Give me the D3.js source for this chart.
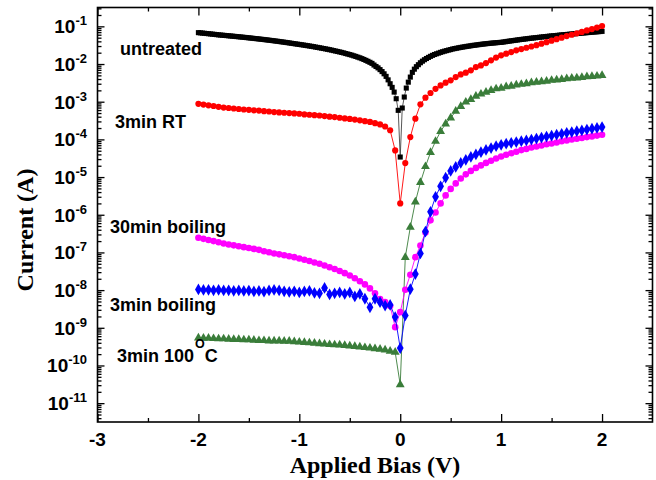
<!DOCTYPE html>
<html>
<head>
<meta charset="utf-8">
<script src="https://cdn.jsdelivr.net/npm/d3@7"></script>
<style>
body { margin: 0; background: #fff; }
text { font-family: "Liberation Sans", Arial, sans-serif; font-weight: bold; }
.title { font-family: "Liberation Serif", "Times New Roman", serif; font-size: 24px; }
</style>
</head>
<body>
<svg id="chart" width="656" height="480"></svg>
<script>
// bias sweeps (V)
const biasFine = d3.range(-100, 101).map(i => i / 50);   // 0.02 V step
const biasStep = d3.range(-40, 41).map(i => i / 20);     // 0.05 V step

// currents (A)
const untreated = [
  0.068, 0.0671, 0.0662, 0.0654, 0.0645, 0.0637, 0.0628, 0.062, 0.0612, 0.0603,
  0.0594, 0.0587, 0.0581, 0.0574, 0.0568, 0.0561, 0.0554, 0.0548, 0.0541, 0.0535,
  0.0528, 0.0521, 0.0515, 0.0508, 0.0502, 0.0495, 0.0488, 0.0482, 0.0475, 0.0469,
  0.0462, 0.0455, 0.0449, 0.0442, 0.0436, 0.0429, 0.0422, 0.0416, 0.0409, 0.0403,
  0.0396, 0.0389, 0.0383, 0.0376, 0.037, 0.0363, 0.0356, 0.035, 0.0343, 0.0337,
  0.0331, 0.0325, 0.0319, 0.0313, 0.0307, 0.0301, 0.0295, 0.0289, 0.0282, 0.0276,
  0.027, 0.0264, 0.0258, 0.0252, 0.0246, 0.024, 0.0234, 0.0227, 0.0221, 0.0215,
  0.0209, 0.0203, 0.0197, 0.019, 0.0184, 0.0178, 0.0172, 0.0165, 0.0159, 0.0152,
  0.0146, 0.0139, 0.0132, 0.0125, 0.0118, 0.0111, 0.0104, 0.0094, 0.0086, 0.0079,
  0.0071, 0.0063, 0.0055, 0.0047, 0.0038, 0.003, 0.0024, 0.0018, 0.0012, 0.00059,
  3.4e-5,
  0.00068, 0.00133, 0.0023, 0.0033, 0.0045, 0.006, 0.0073, 0.0085, 0.0096, 0.0108,
  0.0119, 0.013, 0.014, 0.015, 0.016, 0.017, 0.0179, 0.0187, 0.0195, 0.0204,
  0.0212, 0.022, 0.0227, 0.0235, 0.0242, 0.0251, 0.0257, 0.0263, 0.027, 0.0276,
  0.0282, 0.0288, 0.0294, 0.0299, 0.0305, 0.0312, 0.0316, 0.0322, 0.0327, 0.0333,
  0.0338, 0.0343, 0.0348, 0.0352, 0.0357, 0.0361, 0.0365, 0.0369, 0.0373, 0.0376,
  0.0383, 0.039, 0.0398, 0.0405, 0.0412, 0.042, 0.0427, 0.0434, 0.0442, 0.0449,
  0.0456, 0.0463, 0.0471, 0.0478, 0.0485, 0.0492, 0.0499, 0.0506, 0.0513, 0.052,
  0.0528, 0.0535, 0.0542, 0.0549, 0.0556, 0.0563, 0.057, 0.0577, 0.0584, 0.0591,
  0.0598, 0.0605, 0.0612, 0.0619, 0.0626, 0.0633, 0.064, 0.0648, 0.0655, 0.0662,
  0.0669, 0.0676, 0.0684, 0.0691, 0.0698, 0.0706, 0.0713, 0.072, 0.0728, 0.0735
];
const rt3min = [
  8.8e-4, 8.4e-4, 8.0e-4, 7.7e-4, 7.3e-4, 7.0e-4, 6.8e-4, 6.6e-4, 6.4e-4, 6.2e-4,
  6.1e-4, 5.9e-4, 5.8e-4, 5.6e-4, 5.5e-4, 5.3e-4, 5.2e-4, 5.1e-4, 5.0e-4, 4.9e-4,
  4.8e-4, 4.6e-4, 4.5e-4, 4.4e-4, 4.3e-4, 4.15e-4, 4.0e-4, 3.9e-4, 3.75e-4, 3.6e-4,
  3.5e-4, 3.35e-4, 3.2e-4, 3.05e-4, 2.9e-4, 2.7e-4, 2.5e-4, 2.2e-4, 1.75e-4, 5.1e-5,
  2.0e-6,
  2.35e-5, 1.15e-4, 3.55e-4, 8.5e-4, 1.28e-3, 1.7e-3, 2.2e-3, 2.7e-3, 3.2e-3, 3.7e-3,
  4.5e-3, 5.3e-3, 5.9e-3, 6.8e-3, 8.3e-3, 9.2e-3, 0.0106, 0.0125, 0.0148, 0.017,
  0.0188, 0.0208, 0.0231, 0.0249, 0.027, 0.0292, 0.0317, 0.0347, 0.0381, 0.0417,
  0.0457, 0.05, 0.055, 0.0598, 0.0652, 0.071, 0.0778, 0.0848, 0.0929, 0.102
];
const boil30min = [
  2.46e-7, 2.29e-7, 2.14e-7, 2.0e-7, 1.87e-7, 1.73e-7, 1.63e-7, 1.54e-7, 1.46e-7, 1.38e-7,
  1.31e-7, 1.24e-7, 1.17e-7, 1.08e-7, 1.01e-7, 9.4e-8, 8.9e-8, 8.4e-8, 7.9e-8, 7.5e-8,
  6.9e-8, 6.4e-8, 5.9e-8, 5.4e-8, 5.0e-8, 4.5e-8, 4.06e-8, 3.63e-8, 3.21e-8, 2.82e-8,
  2.45e-8, 2.07e-8, 1.72e-8, 1.42e-8, 1.11e-8, 8.2e-9, 5.8e-9, 4.8e-9, 3.8e-9, 1.04e-9,
  2.6e-9,
  1.02e-8, 2.56e-8, 7.5e-8, 1.53e-7, 3.4e-7, 7.1e-7, 1.15e-6, 2.0e-6, 3.26e-6, 4.85e-6,
  6.8e-6, 9.2e-6, 1.18e-5, 1.46e-5, 1.75e-5, 2.04e-5, 2.38e-5, 2.72e-5, 3.1e-5, 3.5e-5,
  3.9e-5, 4.3e-5, 4.7e-5, 5.2e-5, 5.6e-5, 6.1e-5, 6.5e-5, 6.9e-5, 7.4e-5, 7.8e-5,
  8.3e-5, 8.9e-5, 9.4e-5, 9.9e-5, 1.04e-4, 1.09e-4, 1.15e-4, 1.2e-4, 1.26e-4, 1.33e-4
];
const boil3min = [
  1.04e-8, 1.01e-8, 1.02e-8, 9.9e-9, 1.01e-8, 9.8e-9, 9.9e-9, 9.6e-9, 9.8e-9, 9.5e-9,
  9.7e-9, 9.2e-9, 9.5e-9, 9.1e-9, 9.8e-9, 1.01e-8, 9.8e-9, 9.3e-9, 8.95e-9, 9.3e-9,
  8.7e-9, 9.2e-9, 9.5e-9, 8.4e-9, 8.2e-9, 1.14e-8, 7.7e-9, 8.2e-9, 8.7e-9, 7.9e-9,
  8.7e-9, 6.8e-9, 7.9e-9, 5.9e-9, 3.5e-9, 5.9e-9, 4.8e-9, 3.9e-9, 4.05e-9, 1.92e-9,
  2.9e-10,
  2.13e-9, 1.06e-8, 2.66e-8, 9.4e-8, 3.57e-7, 1.2e-6, 3.0e-6, 5.7e-6, 9.6e-6, 1.46e-5,
  1.86e-5, 2.38e-5, 2.86e-5, 3.43e-5, 4.0e-5, 4.57e-5, 5.24e-5, 5.9e-5, 6.6e-5, 7.2e-5,
  7.7e-5, 8.1e-5, 8.5e-5, 8.95e-5, 9.4e-5, 9.9e-5, 1.05e-4, 1.12e-4, 1.19e-4, 1.25e-4,
  1.33e-4, 1.41e-4, 1.49e-4, 1.56e-4, 1.65e-4, 1.73e-4, 1.82e-4, 1.92e-4, 2.02e-4, 2.12e-4
];
const heat3min = [
  5.4e-10, 5.3e-10, 5.3e-10, 5.2e-10, 5.1e-10, 5.1e-10, 5.0e-10, 4.9e-10, 4.9e-10, 4.8e-10,
  4.8e-10, 4.7e-10, 4.6e-10, 4.6e-10, 4.5e-10, 4.5e-10, 4.5e-10, 4.4e-10, 4.4e-10, 4.3e-10,
  4.2e-10, 4.1e-10, 4.0e-10, 3.9e-10, 3.8e-10, 3.7e-10, 3.6e-10, 3.55e-10, 3.5e-10, 3.4e-10,
  3.3e-10, 3.2e-10, 3.1e-10, 3.0e-10, 2.9e-10, 2.8e-10, 2.7e-10, 2.6e-10, 2.4e-10, 2.25e-10,
  3.1e-11,
  7.4e-8, 4.7e-7, 2.2e-6, 7.2e-6, 1.9e-5, 4.5e-5, 8.9e-5, 1.63e-4, 2.58e-4, 3.72e-4,
  5.6e-4, 7.5e-4, 9.8e-4, 1.15e-3, 1.4e-3, 1.6e-3, 1.8e-3, 2.0e-3, 2.2e-3, 2.3e-3,
  2.5e-3, 2.6e-3, 2.8e-3, 2.9e-3, 3.0e-3, 3.2e-3, 3.3e-3, 3.4e-3, 3.5e-3, 3.7e-3,
  3.8e-3, 3.9e-3, 4.1e-3, 4.2e-3, 4.3e-3, 4.4e-3, 4.6e-3, 4.7e-3, 4.8e-3, 5.0e-3
];

const xTicks = [-3, -2, -1, 0, 1, 2];
const xMinorTicks = [-2.5, -1.5, -0.5, 0.5, 1.5];
const yExponents = [-1, -2, -3, -4, -5, -6, -7, -8, -9, -10, -11];

const curveLabels = [
  { text: "untreated", x: 120, y: 55 },
  { text: "3min RT", x: 115, y: 128 },
  { text: "30min boiling", x: 110, y: 233 },
  { text: "3min boiling", x: 110, y: 311 }
];

const margin = { left: 97.5, right: 652.5, top: 7.5, bottom: 422 };
const svg = d3.select("#chart");

const x = d3.scaleLinear().domain([-3, 2.5]).range([margin.left, margin.right]);
const y = d3.scaleLog().domain([Math.pow(10, -11.5), Math.pow(10, -0.5)]).range([margin.bottom, margin.top]);

const series = [
  { bias: biasFine, current: untreated, color: "#000", line: "#444", symbol: d3.symbolSquare, size: 26 },
  { bias: biasStep, current: rt3min, color: "#f00", line: "#f00", symbol: d3.symbolCircle, size: 30 },
  { bias: biasStep, current: heat3min, color: "#3a7d3a", line: "#3a7d3a", symbol: d3.symbolTriangle, size: 34 },
  { bias: biasStep, current: boil30min, color: "#f0f", line: "#f0f", symbol: d3.symbolCircle, size: 34 },
  { bias: biasStep, current: boil3min, color: "#00f", line: "#00f", symbol: d3.symbolDiamond, size: 40 }
];

// minor log ticks
const yMinor = [];
for (let e = -12; e <= 0; e++) {
  for (let k = 2; k <= 9; k++) {
    const v = k * Math.pow(10, e);
    if (v > y.domain()[0] && v < y.domain()[1]) yMinor.push(v);
  }
}
const yMajor = yExponents.map(e => Math.pow(10, e));

// ticks (inward)
function addAxis(axis, tx, ty) {
  const g = svg.append("g").attr("transform", `translate(${tx},${ty})`).call(axis);
  g.select(".domain").remove();
  g.selectAll("line").attr("stroke", "#000").attr("stroke-width", 1.3);
  return g;
}
addAxis(d3.axisBottom(x).tickValues(xTicks).tickSize(-8).tickFormat(""), 0, margin.bottom);
addAxis(d3.axisBottom(x).tickValues(xMinorTicks).tickSize(-4).tickFormat(""), 0, margin.bottom);
addAxis(d3.axisTop(x).tickValues(xTicks).tickSize(-8).tickFormat(""), 0, margin.top);
addAxis(d3.axisTop(x).tickValues(xMinorTicks).tickSize(-4).tickFormat(""), 0, margin.top);
addAxis(d3.axisLeft(y).tickValues(yMajor).tickSize(-7).tickFormat(""), margin.left, 0);
addAxis(d3.axisLeft(y).tickValues(yMinor).tickSize(-4).tickFormat(""), margin.left, 0);
addAxis(d3.axisRight(y).tickValues(yMajor).tickSize(-7).tickFormat(""), margin.right, 0);
addAxis(d3.axisRight(y).tickValues(yMinor).tickSize(-4).tickFormat(""), margin.right, 0);

// frame
svg.append("rect")
  .attr("x", margin.left).attr("y", margin.top)
  .attr("width", margin.right - margin.left).attr("height", margin.bottom - margin.top)
  .attr("fill", "none").attr("stroke", "#000").attr("stroke-width", 1.6);

// tick labels
svg.append("g").selectAll("text").data(xTicks).join("text")
  .attr("x", d => x(d)).attr("y", 446)
  .attr("text-anchor", "middle").attr("font-size", 19)
  .text(d => d);

const yLab = svg.append("g").selectAll("text").data(yExponents).join("text")
  .attr("x", 87).attr("y", d => y(Math.pow(10, d)) + 7)
  .attr("text-anchor", "end").attr("font-size", 19);
yLab.append("tspan").text("10");
yLab.append("tspan").attr("font-size", 13).attr("dy", -8).text(d => d);

// axis titles
svg.append("text").attr("class", "title")
  .attr("x", (margin.left + margin.right) / 2).attr("y", 473)
  .attr("text-anchor", "middle").text("Applied Bias (V)");
svg.append("text").attr("class", "title")
  .attr("transform", "translate(33,230) rotate(-90)")
  .attr("text-anchor", "middle").text("Current (A)");

// curves
const line = d3.line().x(d => x(d[0])).y(d => y(d[1]));
series.forEach(s => {
  const pts = s.bias.map((v, i) => [v, s.current[i]]);
  svg.append("path").datum(pts)
    .attr("d", line).attr("fill", "none")
    .attr("stroke", s.line).attr("stroke-width", 0.9);
  svg.append("g").selectAll("path").data(pts).join("path")
    .attr("transform", d => `translate(${x(d[0])},${y(d[1])})`)
    .attr("d", d3.symbol().type(s.symbol).size(s.size))
    .attr("fill", s.color);
});

// curve labels
svg.append("g").selectAll("text").data(curveLabels).join("text")
  .attr("x", d => d.x).attr("y", d => d.y)
  .attr("font-size", 18).text(d => d.text);

const degLabel = svg.append("text").attr("x", 117).attr("y", 362).attr("font-size", 18);
degLabel.append("tspan").text("3min 100");
degLabel.append("tspan").attr("font-size", 12.5).attr("dy", -14).attr("dx", 1).text("O");
degLabel.append("tspan").attr("dy", 14).text("C");
</script>
</body>
</html>
